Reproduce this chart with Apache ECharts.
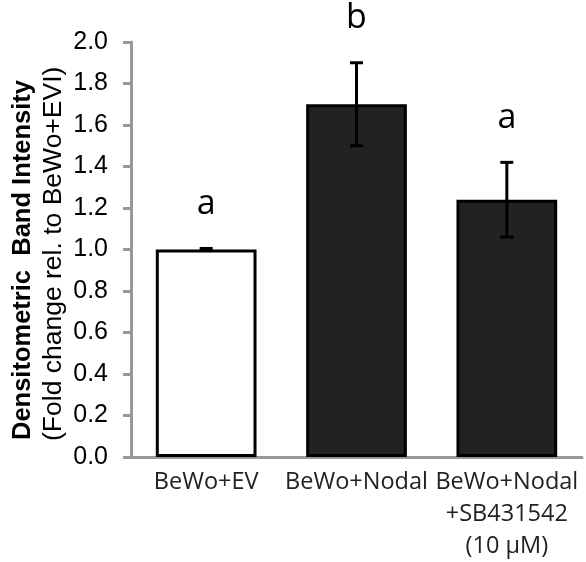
<!DOCTYPE html>
<html>
<head>
<meta charset="utf-8">
<script src="https://cdn.jsdelivr.net/npm/echarts@6/dist/echarts.min.js"></script>
<style>
  html, body { margin: 0; padding: 0; background: #fff; }
  #chart { width: 586px; height: 562px; }
</style>
</head>
<body>
<div id="chart"></div>
<script>
const categories = ["BeWo+EV", "BeWo+Nodal", "BeWo+Nodal\n+SB431542\n(10 μM)"];
const means = [1.0, 1.70, 1.24];
const errors = [0.005, 0.20, 0.18];
const letters = ["a", "b", "a"];
const yTicks = [0, 0.2, 0.4, 0.6, 0.8, 1.0, 1.2, 1.4, 1.6, 1.8, 2.0];
const fills = ["#ffffff", "#222222", "#222222"];

const axisGray = "#999999";
const chart = echarts.init(document.getElementById("chart"));

const errData = means.map((m, i) => [i, m - errors[i], m + errors[i]]);

chart.setOption({
  animation: false,
  grid: { left: 131, right: 4, top: 42, bottom: 104 },
  xAxis: {
    type: "category",
    data: categories,
    axisLine: { lineStyle: { color: axisGray, width: 3 } },
    axisTick: { length: 8, lineStyle: { color: axisGray, width: 3 } },
    axisLabel: {
      color: "#222",
      fontFamily: "Open Sans",
      fontSize: 23.5,
      lineHeight: 32,
      margin: 9,
      interval: 0
    }
  },
  yAxis: {
    type: "value",
    min: yTicks[0],
    max: yTicks[yTicks.length - 1],
    interval: 0.2,
    axisLine: { show: true, lineStyle: { color: axisGray, width: 3 } },
    axisTick: { show: true, length: 8, lineStyle: { color: axisGray, width: 3 } },
    splitLine: { show: false },
    axisLabel: {
      color: "#000",
      fontFamily: "Arial, Liberation Sans",
      fontSize: 25,
      margin: 23,
      formatter: (v) => v.toFixed(1)
    }
  },
  graphic: [
    {
      type: "text",
      x: 22.5, y: 440,
      rotation: Math.PI / 2,
      style: {
        text: "Densitometric  Band Intensity",
        font: "bold 25.5px Arial, Liberation Sans",
        fill: "#000",
        align: "left",
        verticalAlign: "middle"
      }
    },
    {
      type: "text",
      x: 54, y: 441,
      rotation: Math.PI / 2,
      style: {
        text: "(Fold change rel. to BeWo+EVI)",
        font: "26.5px Arial, Liberation Sans",
        fill: "#000",
        align: "left",
        verticalAlign: "middle"
      }
    }
  ],
  series: [
    {
      type: "bar",
      barWidth: "67%",
      data: means.map((v, i) => ({
        value: v,
        itemStyle: { color: fills[i], borderColor: "#000", borderWidth: 3 }
      }))
    },
    {
      type: "custom",
      data: errData,
      z: 5,
      renderItem: (params, api) => {
        const lo = api.coord([api.value(0), api.value(1)]);
        const hi = api.coord([api.value(0), api.value(2)]);
        const cap = 6.5;
        const st = { stroke: "#000", lineWidth: 3 };
        return {
          type: "group",
          children: [
            { type: "line", shape: { x1: hi[0], y1: hi[1], x2: lo[0], y2: lo[1] }, style: st },
            { type: "line", shape: { x1: hi[0] - cap, y1: hi[1], x2: hi[0] + cap, y2: hi[1] }, style: st },
            { type: "line", shape: { x1: lo[0] - cap, y1: lo[1], x2: lo[0] + cap, y2: lo[1] }, style: st },
            {
              type: "text",
              x: hi[0], y: hi[1] - 27,
              style: {
                text: letters[params.dataIndex],
                font: "34px Open Sans",
                fill: "#000",
                align: "center",
                verticalAlign: "bottom"
              }
            }
          ]
        };
      }
    }
  ]
});
</script>
</body>
</html>
